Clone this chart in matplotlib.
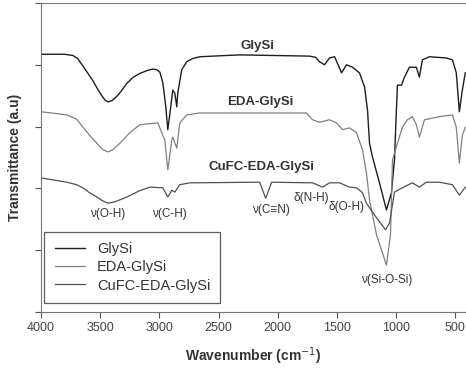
import matplotlib.pyplot as plt

plt.rcParams['font.family'] = ['Liberation Sans', 'DejaVu Sans']

# FTIR spectra, wavenumber (cm-1) vs offset transmittance (a.u.)
gly_wn = [4000, 3800, 3730, 3690, 3646, 3600, 3561, 3520, 3486, 3460, 3435, 3400,
          3359, 3320, 3275, 3220, 3165, 3100, 3055, 3020, 2996, 2971,
          2946, 2929, 2904, 2887, 2870, 2853, 2845, 2811, 2769, 2720, 2659, 2322, 1731,
          1680, 1647, 1605, 1563, 1520, 1461, 1419, 1369, 1310, 1267, 1242, 1225, 1200,
          1141, 1082, 1040, 1014, 998, 989, 955, 930, 888, 829, 804, 778, 719, 576,
          525, 492, 466, 441, 416]
gly_t = [4.17, 4.17, 4.15, 4.10, 3.98, 3.85, 3.74, 3.60, 3.50, 3.43, 3.40, 3.42,
         3.49, 3.58, 3.70, 3.80, 3.86, 3.91, 3.93, 3.92, 3.88, 3.71,
         3.32, 2.95, 3.32, 3.59, 3.54, 3.32, 3.54, 3.92, 4.05, 4.10, 4.13, 4.16, 4.14,
         4.12, 4.05, 4.00, 4.11, 4.13, 3.87, 4.00, 3.96, 3.87, 3.64, 3.27, 2.73, 2.51,
         2.09, 1.65, 1.93, 2.46, 3.27, 3.67, 3.67, 3.80, 3.96, 3.96, 3.80, 4.08, 4.13, 4.11,
         4.08, 3.87, 3.24, 3.59, 3.87]

eda_wn = [4000, 3781, 3700, 3646, 3590, 3528, 3480, 3435, 3390, 3334, 3250, 3165,
          3013, 2954, 2929, 2895, 2887, 2853, 2828, 2769, 2659, 1757, 1706, 1647,
          1563, 1504, 1453, 1394, 1335, 1284, 1251, 1225, 1166, 1082, 1048, 1031,
          989, 947, 905, 863, 829, 804, 761, 635, 525, 492, 466, 441, 416]
eda_t = [3.24, 3.19, 3.12, 2.99, 2.86, 2.73, 2.63, 2.59, 2.63, 2.73, 2.90, 3.03,
         3.06, 2.78, 2.30, 2.78, 2.83, 2.65, 3.06, 3.19, 3.22, 3.22, 3.11, 3.07,
         3.11, 3.06, 2.95, 2.98, 2.90, 2.62, 2.25, 1.81, 1.25, 0.76, 1.25, 2.46,
         2.73, 2.99, 3.11, 3.16, 3.03, 2.83, 3.11, 3.16, 3.19, 2.99, 2.41, 2.86, 2.99]

cufc_wn = [4000, 3781, 3700, 3646, 3590, 3528, 3480, 3435, 3380, 3275, 3170, 3081,
           2971, 2929, 2895, 2870, 2828, 2743, 2153, 2102, 2052, 1706, 1622, 1563,
           1478, 1394, 1335, 1284, 1251, 1183, 1090, 1056, 1014, 947, 863, 804, 745,
           635, 525, 466, 416]
cufc_t = [2.17, 2.10, 2.06, 2.01, 1.93, 1.86, 1.80, 1.76, 1.78, 1.86, 1.96, 2.02,
          2.01, 1.86, 1.97, 1.94, 2.06, 2.09, 2.10, 1.84, 2.10, 2.09, 2.02, 2.09,
          2.09, 2.02, 2.01, 1.93, 1.76, 1.57, 1.33, 1.44, 1.94, 2.01, 2.09, 2.02, 2.10,
          2.10, 2.06, 1.89, 2.02]

series_names = ["GlySi", "EDA-GlySi", "CuFC-EDA-GlySi"]

# name positions above each trace: wavenumber, transmittance
name_wn = [2170, 2145, 2136]
name_t = [4.20, 3.30, 2.25]

# band labels: text, wavenumber, transmittance
bands = [("ν(O-H)", 3435, 1.59),
         ("ν(C-H)", 2912, 1.59),
         ("ν(C≡N)", 2060, 1.65),
         ("δ(N-H)", 1714, 1.84),
         ("δ(O-H)", 1419, 1.70),
         ("ν(Si-O-Si)", 1082, 0.52)]

fig = plt.figure(figsize=(4.66, 3.71), dpi=100)
ax = fig.add_axes([0.088, 0.159, 0.912, 0.833])

l1, = ax.plot(gly_wn, gly_t, color="#1e1e1e", lw=1.0)
l2, = ax.plot(eda_wn, eda_t, color="#808080", lw=0.9)
l3, = ax.plot(cufc_wn, cufc_t, color="#505050", lw=0.9)

for name, wn, t in zip(series_names, name_wn, name_t):
    ax.text(wn, t, name, ha="center", va="bottom", fontsize=9.5, fontweight="bold", color="#333333")

for txt, wn, t in bands:
    ax.text(wn, t, txt, ha="center", va="center", fontsize=8.5, color="#333333")

ax.set_xlim(4000, 410)
ax.set_ylim(0, 5)
ax.set_xticks([4000, 3500, 3000, 2500, 2000, 1500, 1000, 500])
ax.set_yticks([0, 1, 2, 3, 4, 5])
ax.set_yticklabels([])
ax.tick_params(axis="both", direction="out", length=4, width=0.8, colors="#555555",
               labelsize=9, labelcolor="#444444")
ax.spines["right"].set_visible(False)
for s in ["left", "bottom", "top"]:
    ax.spines[s].set_color("#777777")
    ax.spines[s].set_linewidth(0.8)

ax.set_xlabel("Wavenumber (cm$^{-1}$)", fontsize=10, fontweight="bold", color="#333333", labelpad=8)
ax.set_ylabel("Transmittance (a.u)", fontsize=10, fontweight="bold", color="#333333", labelpad=6)

leg = ax.legend([l1, l2, l3], series_names, loc="lower left", bbox_to_anchor=(0.008, 0.03),
                fontsize=10.5, frameon=True, fancybox=False, edgecolor="#333333",
                handlelength=2.1, handletextpad=0.8, borderpad=0.7, labelspacing=0.3,
                borderaxespad=0)
leg.get_frame().set_linewidth(0.9)
for t in leg.get_texts():
    t.set_color("#333333")

plt.savefig("out.png", dpi=100)
plt.close()
